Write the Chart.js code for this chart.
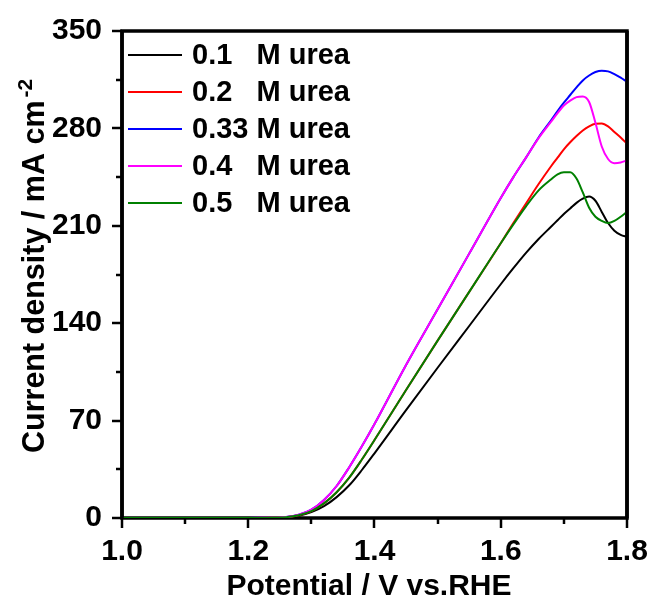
<!DOCTYPE html>
<html>
<head>
<meta charset="utf-8">
<script src="https://cdn.jsdelivr.net/npm/chart.js@4.4.1/dist/chart.umd.min.js"></script>
<style>
  html, body { margin: 0; padding: 0; background: #ffffff; }
  #wrap { width: 651px; height: 600px; position: relative; }
</style>
</head>
<body>
<div id="wrap"><canvas id="c" width="651" height="600"></canvas></div>
<script>
const potential = [1.00,1.05,1.10,1.15,1.20,1.24,1.26,1.28,1.30,1.32,1.34,1.36,1.38,1.40,1.45,1.50,1.55,1.60,1.62,1.64,1.66,1.68,1.69,1.70,1.71,1.72,1.73,1.74,1.75,1.76,1.77,1.78,1.79,1.80];
const urea01 = [0,0,0,0,0,0.2,0.5,1.6,4.2,8.5,15,23.5,34.5,46.5,77.5,108,138,168,179.5,190.5,200.5,209.5,214,218.5,222.5,226.5,229.5,231,228,220,212,206.5,203.5,202];
const urea02 = [0,0,0,0,0,0.3,0.6,2,5,10.5,18.5,29,42,56,92,127.5,162.5,197.5,212,226,240,253,259,265,270,274.5,278.5,281.5,283.3,283.5,281.5,277.5,273.5,269];
const urea033 = [0,0,0,0,0,0.3,0.7,2.3,6,13,23,36.5,51.5,67.5,110,150,190,230,245,259,273.5,286,292.5,298.5,304,309.5,314.5,318,320.5,321.5,321,319,316.5,313.5];
const urea04 = [0,0,0,0,0,0.3,0.7,2.3,6,13,23,36.5,51.5,67.5,110,150,190,230,245,259,273,285,291,296.5,300,302.5,303,299,284,267,258,255,255.5,257];
const urea05 = [0,0,0,0,0,0.3,0.6,2,5,10.5,18.5,29,42,56,92,127.5,162.5,197.5,211,224,235.5,243.5,247,248.5,248.5,244,234,223,216.5,213.5,212,213.5,216.5,220];

const seriesLabels = ['0.1   M urea', '0.2   M urea', '0.33 M urea', '0.4   M urea', '0.5   M urea'];
const seriesValues = [urea01, urea02, urea033, urea04, urea05];
const seriesColors = ['#000000', '#ff0000', '#0000ff', '#ff00ff', '#008000'];
const seriesOrder = [4, 2, 3, 1, 0];

const xTickLabels = ['1.0', '1.2', '1.4', '1.6', '1.8'];
const yTickValues = [0, 70, 140, 210, 280, 350];
const xTitle = 'Potential / V vs.RHE';
const yTitle = 'Current density / mA cm';
const yTitleSup = '-2';

const FONT = "'Liberation Sans', Arial, sans-serif";

const datasets = seriesValues.map((vals, i) => ({
  label: seriesLabels[i],
  data: vals.map((v, j) => ({ x: potential[j], y: v })),
  borderColor: seriesColors[i],
  backgroundColor: seriesColors[i],
  borderWidth: 2,
  pointRadius: 0,
  fill: false,
  cubicInterpolationMode: 'monotone',
  order: seriesOrder[i]
}));

function zeroPad(s) {
  s.paddingLeft = 0; s.paddingRight = 0; s.paddingTop = 0; s.paddingBottom = 0;
}

const decorPlugin = {
  id: 'decor',
  beforeDatasetsDraw(chart) {
    const ctx = chart.ctx;
    const xs = chart.scales.x, ys = chart.scales.y;
    const a = chart.chartArea;
    ctx.save();
    ctx.strokeStyle = '#000';
    ctx.lineWidth = 2.5;
    for (let k = 0; k <= 8; k++) {
      const v = 1.0 + k * 0.1;
      const px = Math.round(xs.getPixelForValue(v));
      const len = (k % 2 === 0) ? 10 : 6;
      ctx.beginPath();
      ctx.moveTo(px, a.bottom);
      ctx.lineTo(px, a.bottom + len);
      ctx.stroke();
    }
    for (let k = 0; k <= 10; k++) {
      const v = k * 35;
      const py = Math.round(ys.getPixelForValue(v));
      const len = (k % 2 === 0) ? 10 : 6;
      ctx.beginPath();
      ctx.moveTo(a.left, py);
      ctx.lineTo(a.left - len, py);
      ctx.stroke();
    }
    ctx.lineWidth = 3.5;
    ctx.strokeRect(a.left, a.top, a.right - a.left, a.bottom - a.top);
    ctx.restore();
  },
  afterDatasetsDraw(chart) {
    const ctx = chart.ctx;
    const a = chart.chartArea;
    ctx.save();
    // redraw left and right frame edges above the curves
    ctx.strokeStyle = '#000';
    ctx.lineWidth = 3.5;
    ctx.beginPath();
    ctx.moveTo(a.right, a.top); ctx.lineTo(a.right, a.bottom);
    ctx.moveTo(a.left, a.top); ctx.lineTo(a.left, a.bottom);
    ctx.stroke();

    ctx.font = 'bold 29px ' + FONT;
    ctx.textBaseline = 'middle';
    ctx.textAlign = 'left';
    const rows = [55, 92, 129, 166, 203];
    seriesLabels.forEach((lab, i) => {
      ctx.strokeStyle = seriesColors[i];
      ctx.lineWidth = 2;
      ctx.beginPath();
      ctx.moveTo(128, rows[i]);
      ctx.lineTo(182, rows[i]);
      ctx.stroke();
      ctx.fillStyle = '#000';
      ctx.fillText(lab, 192, rows[i] + 1);
    });

    ctx.fillStyle = '#000';
    ctx.font = 'bold 30px ' + FONT;
    ctx.textAlign = 'center';
    ctx.textBaseline = 'alphabetic';
    ctx.fillText(xTitle, 369, 595);

    ctx.save();
    ctx.translate(44, 453);
    ctx.rotate(-Math.PI / 2);
    ctx.textAlign = 'left';
    ctx.font = 'bold 30.5px ' + FONT;
    ctx.fillText(yTitle, 0, 0);
    const w = ctx.measureText(yTitle).width;
    ctx.font = 'bold 21px ' + FONT;
    ctx.fillText(yTitleSup, w + 3, -12);
    ctx.restore();

    ctx.restore();
  }
};

new Chart(document.getElementById('c'), {
  type: 'line',
  data: { datasets },
  options: {
    responsive: false,
    animation: false,
    devicePixelRatio: 1,
    layout: { padding: { left: 0, top: 31, right: 24, bottom: 0 } },
    plugins: { legend: { display: false }, tooltip: { enabled: false } },
    scales: {
      x: {
        type: 'linear',
        min: 1.0,
        max: 1.8,
        afterFit: (s) => { s.height = 82; zeroPad(s); },
        afterBuildTicks: (s) => { s.ticks = xTickLabels.map(t => ({ value: parseFloat(t) })); },
        ticks: {
          color: '#000',
          font: { family: FONT, size: 30, weight: 'bold' },
          padding: 8,
          maxRotation: 0,
          autoSkip: false,
          callback: (v) => Number(v).toFixed(1)
        },
        grid: { display: false },
        border: { display: false }
      },
      y: {
        type: 'linear',
        min: 0,
        max: 350,
        afterFit: (s) => { s.width = 122; zeroPad(s); },
        afterBuildTicks: (s) => { s.ticks = yTickValues.map(v => ({ value: v })); },
        ticks: {
          color: '#000',
          font: { family: FONT, size: 30, weight: 'bold' },
          padding: 12
        },
        grid: { display: false },
        border: { display: false }
      }
    }
  },
  plugins: [decorPlugin]
});
</script>
</body>
</html>
